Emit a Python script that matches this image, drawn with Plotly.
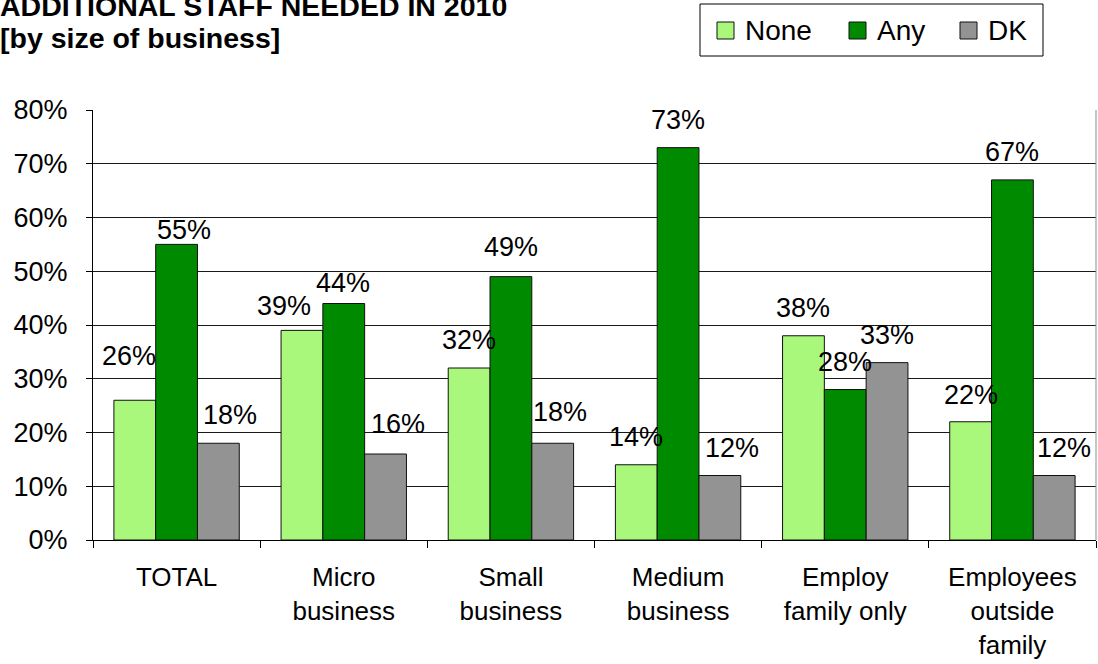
import plotly.graph_objects as go

# Survey results: share of businesses expecting to need additional staff in 2010
categories = [
    "TOTAL",
    "Micro<br>business",
    "Small<br>business",
    "Medium<br>business",
    "Employ<br>family only",
    "Employees<br>outside<br>family",
]
series_names = ["None", "Any", "DK"]
none_vals = [26, 39, 32, 14, 38, 22]
any_vals = [55, 44, 49, 73, 28, 67]
dk_vals = [18, 16, 18, 12, 33, 12]
y_ticks = [0, 10, 20, 30, 40, 50, 60, 70, 80]

colors = {"None": "#A9F87B", "Any": "#008A00", "DK": "#939393"}
FONT = "Liberation Sans, Arial, sans-serif"

# Plot-area geometry (pixels)
W, H = 1098, 664
M_L, M_R, M_T, M_B = 93, 2, 110, 124
PW, PH = W - M_L - M_R, H - M_T - M_B
BARGAP = 0.25


def paper_x(px):
    return (px - M_L) / PW


def paper_y(py):
    return (H - M_B - py) / PH


fig = go.Figure()
for name, vals in zip(series_names, [none_vals, any_vals, dk_vals]):
    fig.add_trace(go.Bar(
        name=name,
        x=categories,
        y=vals,
        marker=dict(color=colors[name], line=dict(color="#111111", width=1)),
        showlegend=False,
    ))

# Value labels above the bars; a few are nudged to keep them clear of neighbours
label_nudge = {
    (0, 0): (-6, 16), (0, 1): (7, -14), (0, 2): (12, 0),
    (1, 0): (-18, -4), (1, 1): (-1, -7), (1, 2): (12, 2),
    (2, 1): (0, 2), (2, 2): (7, 3),
    (3, 2): (12, 0),
    (5, 0): (0, -1), (5, 2): (10, 0),
}
bar_w = (1 - BARGAP) / len(series_names)
annotations = []
for j, vals in enumerate([none_vals, any_vals, dk_vals]):
    for i, v in enumerate(vals):
        dx, dy = label_nudge.get((i, j), (0, 0))
        annotations.append(dict(
            x=i + (j - 1) * bar_w, y=v, xref="x", yref="y",
            text=f"{v}%", showarrow=False,
            xanchor="center", yanchor="bottom",
            xshift=dx, yshift=11 + dy,
            font=dict(family=FONT, size=27, color="#000000"),
        ))

# Two-line heading at the top left
for text, bottom in [("ADDITIONAL STAFF NEEDED IN 2010", 24), ("[by size of business]", 56)]:
    annotations.append(dict(
        xref="paper", yref="paper", x=paper_x(-2), y=paper_y(bottom),
        xanchor="left", yanchor="bottom", showarrow=False,
        text=f"<b>{text}</b>",
        font=dict(family=FONT, size=28.5, color="#000000"),
    ))

# Boxed legend in the top right corner
shapes = [
    dict(type="rect", xref="paper", yref="paper",
         x0=paper_x(700), x1=paper_x(1043), y0=paper_y(56), y1=paper_y(4),
         line=dict(color="#000000", width=1), fillcolor="white", layer="above"),
    dict(type="line", xref="paper", yref="paper", x0=1, x1=1, y0=0, y1=1,
         line=dict(color="#8c8c8c", width=1)),
]
legend_x = [717, 849, 960]
for name, lx in zip(series_names, legend_x):
    shapes.append(dict(
        type="rect", xref="paper", yref="paper",
        x0=paper_x(lx), x1=paper_x(lx + 17), y0=paper_y(39), y1=paper_y(22),
        line=dict(color="#111111", width=1), fillcolor=colors[name], layer="above",
    ))
    annotations.append(dict(
        xref="paper", yref="paper", x=paper_x(lx + 26), y=paper_y(30.5),
        xanchor="left", yanchor="middle", showarrow=False, text=name,
        font=dict(family=FONT, size=28, color="#000000"),
    ))

fig.update_layout(
    width=W, height=H,
    margin=dict(l=M_L, r=M_R, t=M_T, b=M_B),
    paper_bgcolor="white", plot_bgcolor="white",
    barmode="group", bargap=BARGAP, bargroupgap=0,
    font=dict(family=FONT, size=26, color="#000000"),
    showlegend=False,
    annotations=annotations,
    shapes=shapes,
)
fig.update_xaxes(
    type="category", showline=True, linecolor="#000000", linewidth=1,
    ticks="outside", tickson="boundaries", ticklen=7, tickcolor="#000000",
    ticklabelstandoff=14, showgrid=False,
    tickfont=dict(family=FONT, size=26, color="#000000"),
)
fig.update_yaxes(
    range=[0, 80], tickvals=y_ticks, ticktext=[f"{t}%" for t in y_ticks],
    showline=True, linecolor="#000000", linewidth=1,
    ticks="outside", ticklen=6, tickcolor="#000000",
    ticklabelstandoff=13,
    showgrid=True, gridcolor="#1a1a1a", gridwidth=1, zeroline=False,
    tickfont=dict(family=FONT, size=27, color="#000000"),
)

fig.write_html("out.html")
